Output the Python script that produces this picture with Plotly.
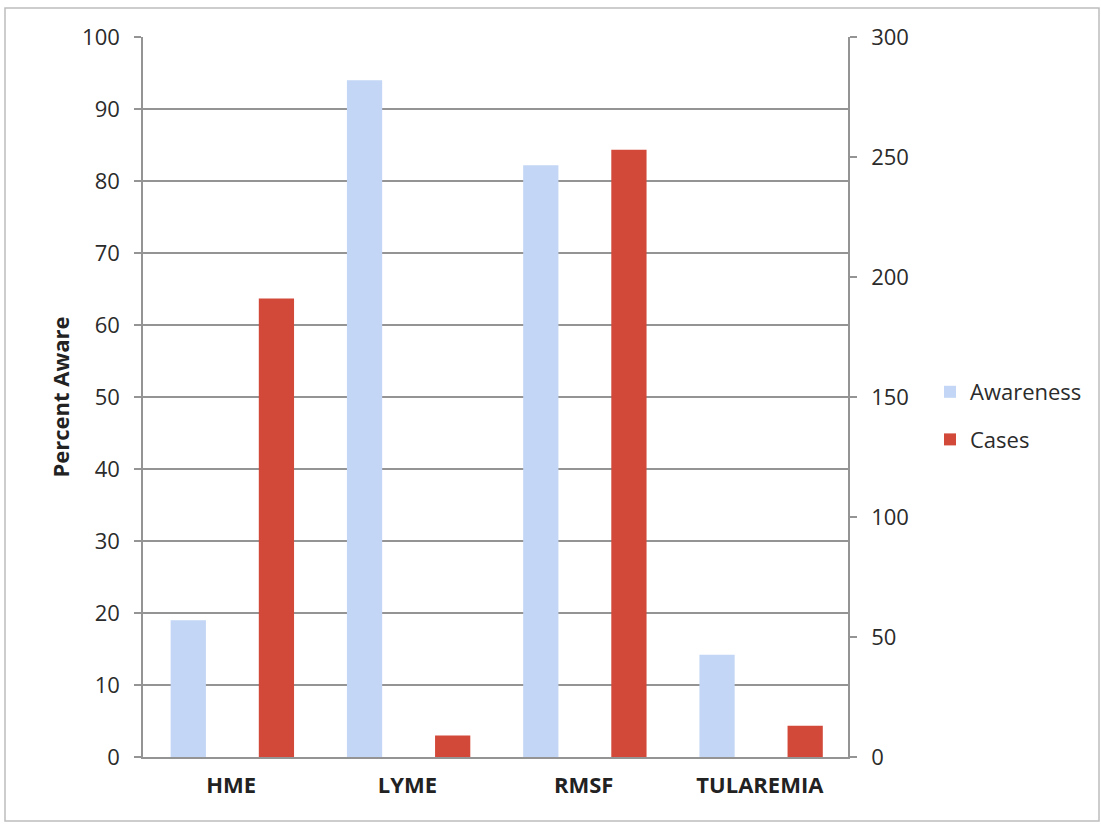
import plotly.graph_objects as go

categories = ["HME", "LYME", "RMSF", "TULAREMIA"]
awareness = [19.0, 94.0, 82.2, 14.2]
cases = [191, 9, 253, 13]
left_ticks = list(range(0, 101, 10))
right_ticks = list(range(0, 301, 50))

W, H = 1101, 824
ML, MR, MT, MB = 143, 253, 37, 67

fig = go.Figure()
fig.add_trace(go.Bar(
    x=list(range(len(categories))), y=awareness, name="Awareness",
    marker=dict(color="#c3d6f5", line=dict(width=0)), legendgroup="a",
    width=0.2, offset=-0.343, yaxis="y", xaxis="x"))
fig.add_trace(go.Bar(
    x=list(range(len(categories))), y=cases, name="Cases",
    marker=dict(color="#d2493a", line=dict(width=0)), legendgroup="b",
    width=0.2, offset=0.157, yaxis="y2", xaxis="x"))

font_fam = "Open Sans, Liberation Sans, sans-serif"
axis_col = "#949494"
pw = W - ML - MR
ph = H - MT - MB

fig.update_layout(
    width=W, height=H,
    margin=dict(l=ML, r=MR, t=MT, b=MB),
    paper_bgcolor="white", plot_bgcolor="white",
    font=dict(family=font_fam, size=22, color="#2b2b2b"),
    barmode="overlay",
    showlegend=True,
    legend=dict(x=(930 - ML) / pw, y=0.5 - 19 / ph, xanchor="left", yanchor="middle",
                font=dict(size=22, color="#2b2b2b"),
                itemsizing="constant", tracegroupgap=16, traceorder="grouped",
                itemwidth=30, bgcolor="rgba(0,0,0,0)"),
    xaxis=dict(
        range=[-0.5, 3.5], tickmode="array",
        tickvals=list(range(len(categories))), ticktext=[f"<b>{c}</b>" for c in categories],
        showgrid=False, zeroline=False, showline=True, linecolor=axis_col, linewidth=1.5,
        ticks="", tickfont=dict(size=22, color="#222"), ticklabelstandoff=8,
    ),
    yaxis=dict(
        range=[0, 100], tickvals=left_ticks, showgrid=True, gridcolor=axis_col, gridwidth=1.5,
        zeroline=False, showline=True, linecolor=axis_col, linewidth=1.5,
        ticks="outside", ticklen=7, tickcolor=axis_col, tickwidth=1.5,
        tickfont=dict(size=22, color="#2b2b2b"), ticklabelstandoff=10,
        title=dict(text="<b>Percent Aware</b>", font=dict(size=22, color="#222"), standoff=6),
    ),
    yaxis2=dict(
        range=[0, 300], tickvals=right_ticks, overlaying="y", side="right",
        showgrid=False, zeroline=False, showline=True, linecolor=axis_col, linewidth=1.5,
        ticks="outside", ticklen=7, tickcolor=axis_col, tickwidth=1.5,
        tickfont=dict(size=22, color="#2b2b2b"), ticklabelstandoff=10,
    ),
)

# outer chart border
x0 = (5 - ML) / pw
x1 = (1099 - ML) / pw
y1 = 1 + (MT - 8) / ph
y0 = -(MB - 3) / ph
fig.add_shape(type="rect", xref="paper", yref="paper", x0=x0, x1=x1, y0=y0, y1=y1,
              line=dict(color="#bdbdbd", width=1.5), layer="below")

fig.write_html("out.html", config={"displayModeBar": False},
               post_script="document.body.style.margin='0';")
